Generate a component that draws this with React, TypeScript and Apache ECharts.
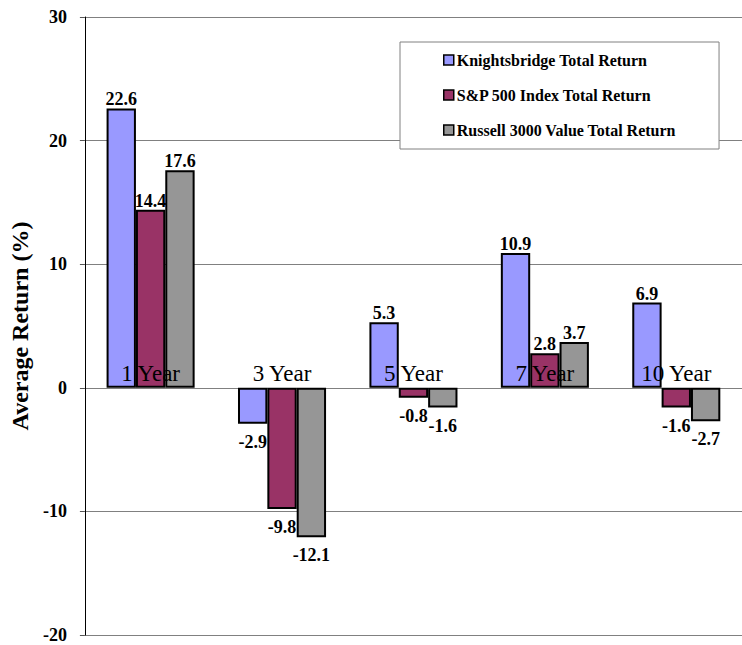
import React, { useEffect, useRef } from "react";
import * as echarts from "echarts";

const categories = ["1 Year", "3 Year", "5 Year", "7 Year", "10 Year"];
const seriesNames = [
  "Knightsbridge Total Return",
  "S&P 500 Index Total Return",
  "Russell 3000 Value Total Return",
];
const knightsbridge = [22.6, -2.9, 5.3, 10.9, 6.9];
const sp500 = [14.4, -9.8, -0.8, 2.8, -1.6];
const russell = [17.6, -12.1, -1.6, 3.7, -2.7];
const colors = ["#9999FF", "#993366", "#969696"];
const yMin = -20;
const yMax = 30;
const yInterval = 10;
const yTitle = "Average Return (%)";

const FONT = '"Liberation Serif", "Times New Roman", serif';

function makeSeries(name: string, values: number[], color: string) {
  return {
    name,
    type: "bar",
    barGap: "0%",
    barCategoryGap: "33%",
    itemStyle: { color, borderColor: "#000", borderWidth: 2 },
    labelLayout: { hideOverlap: false, moveOverlap: undefined },
    data: values.map((v) => ({
      value: v,
      label: {
        show: true,
        position: v >= 0 ? "top" : "bottom",
        distance: v >= 0 ? 0 : 9,
        formatter: () => v.toFixed(1),
        color: "#000",
        fontFamily: FONT,
        fontSize: 18,
        fontWeight: "bold",
      },
    })),
  };
}

export default function App() {
  const ref = useRef<HTMLDivElement>(null);
  useEffect(() => {
    if (!ref.current) return;
    const chart = echarts.init(ref.current, undefined, { renderer: "svg" });
    chart.setOption({
      animation: false,
      backgroundColor: "#fff",
      textStyle: { fontFamily: FONT },
      grid: { left: 82, top: 17, width: 665, height: 618, containLabel: false },
      legend: {
        orient: "vertical",
        left: 400,
        top: 42,
        padding: [10, 43, 11, 43],
        itemGap: 19,
        itemWidth: 10,
        itemHeight: 10,
        itemStyle: { borderWidth: 1.5, borderColor: "#000" },
        backgroundColor: "#fff",
        borderColor: "#808080",
        borderWidth: 1,
        icon: "rect",
        textStyle: {
          fontFamily: FONT,
          fontSize: 16,
          fontWeight: "bold",
          color: "#000",
          lineHeight: 16,
          padding: [0, 0, 0, -2],
        },
        data: seriesNames,
      },
      xAxis: {
        type: "category",
        data: categories,
        axisLine: { show: false },
        axisTick: { show: false },
        splitLine: { show: false },
        axisLabel: { show: false },
      },
      yAxis: {
        type: "value",
        min: yMin,
        max: yMax,
        interval: yInterval,
        name: yTitle,
        nameLocation: "middle",
        nameGap: 52,
        nameTextStyle: {
          fontFamily: FONT,
          fontSize: 24,
          fontWeight: "bold",
          color: "#000",
        },
        axisLine: { show: true, lineStyle: { color: "#000", width: 1 } },
        axisTick: { show: true, length: 5, lineStyle: { color: "#555" } },
        splitLine: { show: true, lineStyle: { color: "#808080", width: 1 } },
        axisLabel: {
          margin: 18,
          fontFamily: FONT,
          fontSize: 18,
          fontWeight: "bold",
          color: "#000",
        },
      },
      series: [
        makeSeries(seriesNames[0], knightsbridge, colors[0]),
        makeSeries(seriesNames[1], sp500, colors[1]),
        makeSeries(seriesNames[2], russell, colors[2]),
        {
          name: "categoryLabels",
          type: "scatter",
          z: 10,
          symbolSize: 0,
          silent: true,
          itemStyle: { opacity: 1 },
          data: categories.map((c) => [c, 0]),
          label: {
            show: true,
            position: "top",
            distance: 3,
            opacity: 1,
            formatter: (p: any) => p.data[0],
            fontFamily: FONT,
            fontSize: 23,
            color: "#000",
          },
        },
      ],
    });
    return () => chart.dispose();
  }, []);
  return (
    <div
      ref={ref}
      style={{ position: "absolute", left: 0, top: 0, width: 742, height: 645 }}
    />
  );
}
